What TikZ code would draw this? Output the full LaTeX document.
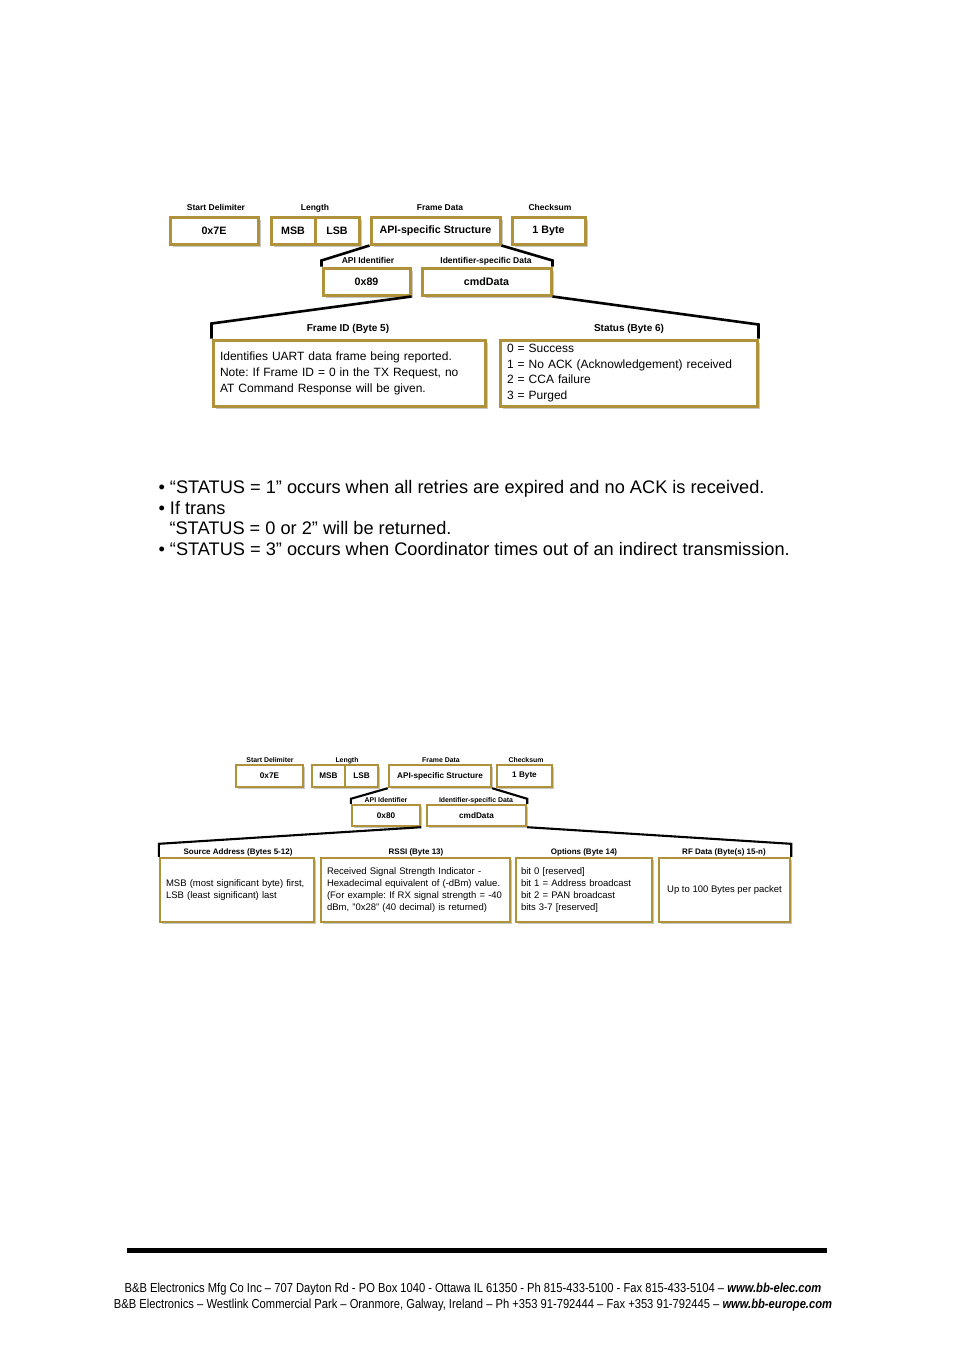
\documentclass[tikz,border=0pt]{standalone}
\usepackage{fontspec}
\setmainfont{Liberation Sans}
\newfontfamily\narrowfont[FakeStretch=0.86]{Liberation Sans}
\usepackage{xcolor}
\usepackage{tikz}
\usetikzlibrary{shadows}

\definecolor{boxgold}{RGB}{176,146,58}
\frenchspacing

\begin{document}
\begin{tikzpicture}[x=1pt, y=-1pt,
    fbox/.style={draw=boxgold, line width=3pt, fill=white, inner sep=0pt,
        general shadow={fill=black!22, shadow xshift=2.5pt, shadow yshift=-2.5pt}},
    sbox/.style={draw=boxgold, line width=2.4pt, fill=white, inner sep=0pt,
        general shadow={fill=black!22, shadow xshift=2pt, shadow yshift=-2pt}},
    hd/.style={anchor=mid, font=\bfseries\fontsize{8.5}{10}\selectfont},
    bt/.style={font=\bfseries\fontsize{10.7}{12}\selectfont},
    lb/.style={anchor=mid, font=\bfseries\fontsize{10}{12}\selectfont},
    hds/.style={anchor=mid, font=\bfseries\fontsize{6.9}{8}\selectfont},
    bts/.style={font=\bfseries\fontsize{8.2}{10}\selectfont},
    lbs/.style={anchor=mid, font=\bfseries\fontsize{8}{10}\selectfont},
    conn/.style={line width=2.6pt},
    conns/.style={line width=2.1pt},
    bul/.style={anchor=base west, font=\fontsize{18.2}{20}\selectfont},
    foot/.style={anchor=base, font=\narrowfont\fontsize{13}{15}\selectfont}]
    \useasboundingbox (0,0) rectangle (954,1354);

    % TX status frame
    \node[hd] (lsd) at (216,208) {Start Delimiter};
    \node[hd] (llen) at (315,208) {Length};
    \node[hd] (lfd) at (440,208) {Frame Data};
    \node[hd] (lck) at (550,208) {Checksum};
    \node[fbox, bt, minimum width=88pt, minimum height=27pt] (sd) at (214,230.5) {0x7E};
    \node[fbox, bt, minimum width=44pt, minimum height=27pt] (msb) at (293,230.5) {MSB};
    \node[fbox, bt, minimum width=44pt, minimum height=27pt] (lsb) at (337,230.5) {LSB};
    \node[fbox, bt, minimum width=129pt, minimum height=27pt] (api) at (435.5,230.5) {API-specific Structure};
    \node[fbox, bt, minimum width=73pt, minimum height=27pt] (ck) at (548.5,230.5) {1 Byte};

    \node[hd] (lid) at (368,261) {API Identifier};
    \node[hd] (lisd) at (486,261) {Identifier-specific Data};
    \node[fbox, bt, minimum width=87pt, minimum height=27pt] (apiid) at (366.5,281.5) {0x89};
    \node[fbox, bt, minimum width=129pt, minimum height=27pt] (cmd) at (486.5,281.5) {cmdData};
    \draw[conn] (api.south west) -- ([yshift=6pt]apiid.north west) -- (apiid.north west);
    \draw[conn] (api.south east) -- ([yshift=6pt]cmd.north east) -- (cmd.north east);

    \node[lb] (lfid) at (348,329) {Frame ID (Byte 5)};
    \node[lb] (lst) at (629,329) {Status (Byte 6)};
    \node[fbox, minimum width=272pt, minimum height=66pt, text width=258pt, align=left,
        font=\fontsize{12}{16}\selectfont] (fid) at (349,373)
        {Identifies UART data frame being reported.\\
         Note: If Frame ID = 0 in the TX Request, no\\
         AT Command Response will be given.};
    \node[fbox, minimum width=257pt, minimum height=66pt, text width=243pt, align=left,
        font=\fontsize{12}{15.6}\selectfont] (st) at (628.5,373)
        {0 = Success\\
         1 = No ACK (Acknowledgement) received\\
         2 = CCA failure\\
         3 = Purged};
    \draw[conn] (apiid.south east) -- ([yshift=15pt]fid.north west) -- (fid.north west);
    \draw[conn] (cmd.south east) -- ([yshift=14pt]st.north east) -- (st.north east);

    % Notes
    \node[bul] (b1) at (155,493) {• “STATUS = 1” occurs when all retries are expired and no ACK is received.};
    \node[bul] (b2) at (155,514) {• If trans};
    \node[bul] (b3) at (166,534) {“STATUS = 0 or 2” will be returned.};
    \node[bul] (b4) at (155,555) {• “STATUS = 3” occurs when Coordinator times out of an indirect transmission.};

    % RX packet frame
    \node[hds] (rsd) at (270,760) {Start Delimiter};
    \node[hds] (rlen) at (347,760) {Length};
    \node[hds] (rfd) at (441,760) {Frame Data};
    \node[hds] (rck) at (526,760) {Checksum};
    \node[sbox, bts, minimum width=67pt, minimum height=22pt] (rsdb) at (269.5,776) {0x7E};
    \node[sbox, bts, minimum width=33pt, minimum height=22pt] (rmsb) at (328.5,776) {MSB};
    \node[sbox, bts, minimum width=33pt, minimum height=22pt] (rlsb) at (361.5,776) {LSB};
    \node[sbox, bts, minimum width=102pt, minimum height=22pt] (rapi) at (440,776) {API-specific Structure};
    \node[sbox, bts, minimum width=55pt, minimum height=22pt] (rckb) at (524.5,776) {1 Byte};

    \node[hds] (rlid) at (386,800) {API Identifier};
    \node[hds] (rlisd) at (476,800) {Identifier-specific Data};
    \node[sbox, bts, minimum width=68pt, minimum height=21pt] (rid) at (386,815.5) {0x80};
    \node[sbox, bts, minimum width=99pt, minimum height=21pt] (rcmd) at (476.5,815.5) {cmdData};
    \draw[conns] (rapi.south west) -- ([yshift=5pt]rid.north west) -- (rid.north west);
    \draw[conns] (rapi.south east) -- ([yshift=5pt]rcmd.north east) -- (rcmd.north east);

    \node[lbs] (lsrc) at (238,852) {Source Address (Bytes 5-12)};
    \node[lbs] (lrssi) at (416,852) {RSSI (Byte 13)};
    \node[lbs] (lopt) at (584,852) {Options (Byte 14)};
    \node[lbs] (lrf) at (724,852) {RF Data (Byte(s) 15-n)};
    \node[sbox, minimum width=154pt, minimum height=64pt, text width=142pt, align=left,
        font=\fontsize{9.5}{12}\selectfont] (src) at (237,890)
        {MSB (most significant byte) first,\\
         LSB (least significant) last};
    \node[sbox, minimum width=189pt, minimum height=64pt, text width=177pt, align=left,
        font=\fontsize{9.5}{12}\selectfont] (rssi) at (415.5,890)
        {Received Signal Strength Indicator -\\
         Hexadecimal equivalent of (-dBm) value.\\
         (For example: If RX signal strength = -40\\
         dBm, "0x28" (40 decimal) is returned)};
    \node[sbox, minimum width=136pt, minimum height=64pt, text width=126pt, align=left,
        font=\fontsize{9.5}{12}\selectfont] (opt) at (584,890)
        {bit 0 [reserved]\\
         bit 1 = Address broadcast\\
         bit 2 = PAN broadcast\\
         bits 3-7 [reserved]};
    \node[sbox, minimum width=131pt, minimum height=64pt, align=center,
        font=\fontsize{9.5}{12}\selectfont] (rf) at (724.5,890)
        {Up to 100 Bytes per packet};
    \draw[conns] (rid.south east) -- ([yshift=13pt]src.north west) -- (src.north west);
    \draw[conns] (rcmd.south east) -- ([yshift=13pt]rf.north east) -- (rf.north east);

    % Footer
    \draw[line width=5pt] (127,1250) -- (827,1250);
    \node[foot] (f1) at (473,1292.5) {B\&B Electronics Mfg Co Inc – 707 Dayton Rd - PO Box 1040 - Ottawa IL 61350 - Ph 815-433-5100 - Fax 815-433-5104 – \textbf{\textit{www.bb-elec.com}}};
    \node[foot] (f2) at (473,1308.5) {B\&B Electronics – Westlink Commercial Park – Oranmore, Galway, Ireland – Ph +353 91-792444 – Fax +353 91-792445 – \textbf{\textit{www.bb-europe.com}}};
\end{tikzpicture}
\end{document}
